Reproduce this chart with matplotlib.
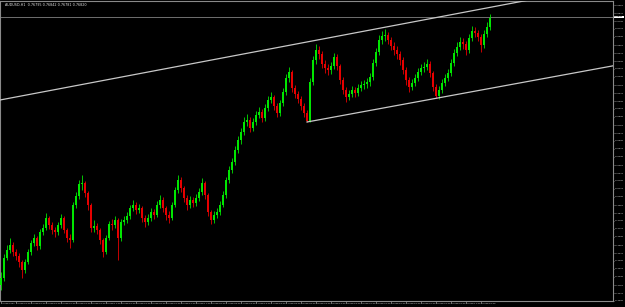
import matplotlib
matplotlib.use("Agg")
import matplotlib.pyplot as plt
import numpy as np

# ---------------- data (AUDUSD, H1) ----------------
opens = [0.7415, 0.7422, 0.7442, 0.7450, 0.7455, 0.7448, 0.7444, 0.7438, 0.7430, 0.7438,
         0.7448, 0.7457, 0.7462, 0.7454, 0.7468, 0.7472, 0.7482, 0.7475, 0.7470, 0.7468,
         0.7475, 0.7482, 0.7470, 0.7462, 0.7460, 0.7495, 0.7504, 0.7516, 0.7517, 0.7507,
         0.7495, 0.7472, 0.7474, 0.7470, 0.7460, 0.7448, 0.7462, 0.7476, 0.7475, 0.7480,
         0.7462, 0.7478, 0.7480, 0.7484, 0.7492, 0.7495, 0.7490, 0.7492, 0.7482, 0.7478,
         0.7482, 0.7488, 0.7485, 0.7495, 0.7500, 0.7492, 0.7485, 0.7482, 0.7495, 0.7510,
         0.7520, 0.7512, 0.7502, 0.7495, 0.7500, 0.7497, 0.7502, 0.7508, 0.7517, 0.7505,
         0.7488, 0.7480, 0.7485, 0.7488, 0.7495, 0.7505, 0.7520, 0.7530, 0.7538, 0.7550,
         0.7560, 0.7568, 0.7578, 0.7580, 0.7572, 0.7578, 0.7585, 0.7588, 0.7582, 0.7592,
         0.7600, 0.7603, 0.7594, 0.7587, 0.7597, 0.7608, 0.7622, 0.7628, 0.7612, 0.7606,
         0.7601, 0.7594, 0.7587, 0.7579, 0.7618, 0.7640, 0.7650, 0.7646, 0.7636, 0.7632,
         0.7630, 0.7634, 0.7643, 0.7634, 0.7620, 0.7610, 0.7603, 0.7606, 0.7610, 0.7607,
         0.7612, 0.7615, 0.7616, 0.7618, 0.7623, 0.7637, 0.7648, 0.7660, 0.7664, 0.7665,
         0.7660, 0.7654, 0.7650, 0.7646, 0.7640, 0.7630, 0.7620, 0.7613, 0.7617, 0.7622,
         0.7628, 0.7632, 0.7633, 0.7636, 0.7627, 0.7613, 0.7604, 0.7610, 0.7617, 0.7622,
         0.7627, 0.7637, 0.7647, 0.7653, 0.7658, 0.7656, 0.7650, 0.7662, 0.7669, 0.7667,
         0.7663, 0.7655, 0.7666, 0.7673]
closes = [0.7422, 0.7442, 0.7450, 0.7455, 0.7448, 0.7444, 0.7438, 0.7430, 0.7438, 0.7448,
          0.7457, 0.7462, 0.7454, 0.7468, 0.7472, 0.7482, 0.7475, 0.7470, 0.7468, 0.7475,
          0.7482, 0.7470, 0.7462, 0.7460, 0.7495, 0.7504, 0.7516, 0.7517, 0.7507, 0.7495,
          0.7472, 0.7474, 0.7470, 0.7460, 0.7448, 0.7462, 0.7476, 0.7475, 0.7480, 0.7462,
          0.7478, 0.7480, 0.7484, 0.7492, 0.7495, 0.7490, 0.7492, 0.7482, 0.7478, 0.7482,
          0.7488, 0.7485, 0.7495, 0.7500, 0.7492, 0.7485, 0.7482, 0.7495, 0.7510, 0.7520,
          0.7512, 0.7502, 0.7495, 0.7500, 0.7497, 0.7502, 0.7508, 0.7517, 0.7505, 0.7488,
          0.7480, 0.7485, 0.7488, 0.7495, 0.7505, 0.7520, 0.7530, 0.7538, 0.7550, 0.7560,
          0.7568, 0.7578, 0.7580, 0.7572, 0.7578, 0.7585, 0.7588, 0.7582, 0.7592, 0.7600,
          0.7603, 0.7594, 0.7587, 0.7597, 0.7608, 0.7622, 0.7628, 0.7612, 0.7606, 0.7601,
          0.7594, 0.7587, 0.7579, 0.7618, 0.7640, 0.7650, 0.7646, 0.7636, 0.7632, 0.7630,
          0.7634, 0.7643, 0.7634, 0.7620, 0.7610, 0.7603, 0.7606, 0.7610, 0.7607, 0.7612,
          0.7615, 0.7616, 0.7618, 0.7623, 0.7637, 0.7648, 0.7660, 0.7664, 0.7665, 0.7660,
          0.7654, 0.7650, 0.7646, 0.7640, 0.7630, 0.7620, 0.7613, 0.7617, 0.7622, 0.7628,
          0.7632, 0.7633, 0.7636, 0.7627, 0.7613, 0.7604, 0.7610, 0.7617, 0.7622, 0.7627,
          0.7637, 0.7647, 0.7653, 0.7658, 0.7656, 0.7650, 0.7662, 0.7669, 0.7667, 0.7663,
          0.7655, 0.7666, 0.7673, 0.7682]
highs = [0.7428, 0.7446, 0.7455, 0.7462, 0.7458, 0.7451, 0.7447, 0.7440, 0.7441, 0.7451,
         0.7460, 0.7466, 0.7464, 0.7471, 0.7476, 0.7487, 0.7484, 0.7478, 0.7473, 0.7478,
         0.7486, 0.7484, 0.7472, 0.7466, 0.7498, 0.7508, 0.7520, 0.7525, 0.7519, 0.7509,
         0.7497, 0.7480, 0.7477, 0.7472, 0.7462, 0.7465, 0.7479, 0.7481, 0.7484, 0.7482,
         0.7481, 0.7484, 0.7488, 0.7495, 0.7500, 0.7498, 0.7496, 0.7494, 0.7485, 0.7486,
         0.7492, 0.7491, 0.7499, 0.7505, 0.7503, 0.7494, 0.7489, 0.7498, 0.7513, 0.7525,
         0.7523, 0.7514, 0.7505, 0.7504, 0.7503, 0.7506, 0.7512, 0.7522, 0.7519, 0.7507,
         0.7490, 0.7489, 0.7492, 0.7499, 0.7509, 0.7523, 0.7534, 0.7542, 0.7554, 0.7564,
         0.7572, 0.7583, 0.7586, 0.7583, 0.7582, 0.7589, 0.7593, 0.7591, 0.7596, 0.7604,
         0.7608, 0.7605, 0.7597, 0.7600, 0.7612, 0.7626, 0.7633, 0.7630, 0.7615, 0.7609,
         0.7604, 0.7597, 0.7590, 0.7622, 0.7644, 0.7656, 0.7654, 0.7649, 0.7640, 0.7636,
         0.7638, 0.7647, 0.7646, 0.7636, 0.7623, 0.7613, 0.7610, 0.7614, 0.7613, 0.7616,
         0.7619, 0.7620, 0.7622, 0.7627, 0.7641, 0.7652, 0.7665, 0.7669, 0.7671, 0.7668,
         0.7663, 0.7658, 0.7654, 0.7649, 0.7643, 0.7633, 0.7623, 0.7621, 0.7626, 0.7632,
         0.7636, 0.7638, 0.7641, 0.7639, 0.7629, 0.7616, 0.7614, 0.7621, 0.7626, 0.7631,
         0.7641, 0.7651, 0.7658, 0.7663, 0.7662, 0.7659, 0.7666, 0.7674, 0.7673, 0.7670,
         0.7666, 0.7670, 0.7678, 0.7686]
lows = [0.7410, 0.7419, 0.7440, 0.7447, 0.7444, 0.7440, 0.7433, 0.7422, 0.7427, 0.7436,
        0.7445, 0.7454, 0.7450, 0.7451, 0.7465, 0.7470, 0.7471, 0.7466, 0.7463, 0.7465,
        0.7472, 0.7467, 0.7458, 0.7452, 0.7458, 0.7492, 0.7501, 0.7510, 0.7503, 0.7490,
        0.7468, 0.7468, 0.7466, 0.7456, 0.7443, 0.7446, 0.7460, 0.7470, 0.7472, 0.7440,
        0.7459, 0.7475, 0.7477, 0.7481, 0.7489, 0.7486, 0.7487, 0.7478, 0.7473, 0.7475,
        0.7479, 0.7481, 0.7483, 0.7492, 0.7488, 0.7480, 0.7477, 0.7480, 0.7493, 0.7507,
        0.7508, 0.7498, 0.7490, 0.7492, 0.7493, 0.7494, 0.7499, 0.7505, 0.7501, 0.7484,
        0.7476, 0.7477, 0.7482, 0.7485, 0.7493, 0.7502, 0.7517, 0.7527, 0.7535, 0.7547,
        0.7556, 0.7565, 0.7574, 0.7568, 0.7569, 0.7575, 0.7582, 0.7578, 0.7579, 0.7589,
        0.7597, 0.7590, 0.7583, 0.7584, 0.7594, 0.7605, 0.7618, 0.7608, 0.7602, 0.7597,
        0.7590, 0.7583, 0.7578, 0.7578, 0.7615, 0.7636, 0.7641, 0.7632, 0.7627, 0.7625,
        0.7626, 0.7631, 0.7630, 0.7616, 0.7606, 0.7598, 0.7600, 0.7603, 0.7603, 0.7604,
        0.7609, 0.7611, 0.7612, 0.7614, 0.7620, 0.7634, 0.7645, 0.7656, 0.7659, 0.7656,
        0.7650, 0.7645, 0.7641, 0.7635, 0.7626, 0.7615, 0.7608, 0.7610, 0.7614, 0.7619,
        0.7625, 0.7628, 0.7630, 0.7623, 0.7609, 0.7602, 0.7601, 0.7607, 0.7614, 0.7619,
        0.7624, 0.7634, 0.7644, 0.7650, 0.7651, 0.7645, 0.7647, 0.7659, 0.7663, 0.7659,
        0.7648, 0.7652, 0.7663, 0.7670]

bid_price = 0.7683
# channel anchors (bar index, price)
lower_channel = [(102, 0.7578), (203.7, 0.7634)]
upper_channel = [(-0.33, 0.7600), (176.0, 0.7700)]

price_ticks = [0.7695 - 0.0008 * k for k in range(38)]
time_labels = ["12 Feb 2021", "12 Feb 05:00", "12 Feb 10:00", "12 Feb 15:00", "12 Feb 20:00",
               "15 Feb 01:00", "15 Feb 06:00", "15 Feb 11:00", "15 Feb 16:00", "15 Feb 21:00",
               "16 Feb 02:00", "16 Feb 07:00", "16 Feb 12:00", "16 Feb 17:00", "16 Feb 22:00",
               "17 Feb 03:00", "17 Feb 08:00", "17 Feb 13:00", "17 Feb 18:00", "17 Feb 23:00",
               "18 Feb 04:00", "18 Feb 09:00", "18 Feb 14:00", "18 Feb 19:00", "19 Feb 00:00",
               "19 Feb 05:00", "19 Feb 10:00", "19 Feb 15:00", "19 Feb 20:00", "22 Feb 01:00",
               "22 Feb 06:00", "22 Feb 11:00", "22 Feb 16:00"]
time_positions = [5 * k for k in range(len(time_labels))]
title = "AUDUSD,H1  0.76795 0.76842 0.76781 0.76820"

# ---------------- drawing ----------------
W, H = 625, 307
fig = plt.figure(figsize=(W / 100, H / 100), dpi=100, facecolor="black")
ax = fig.add_axes([0 / W, (H - 301) / H, 613 / W, 300 / H], facecolor="black")

o = np.array(opens); c = np.array(closes); h = np.array(highs); l = np.array(lows)
idx = np.arange(len(o))
up = c >= o
bull, bear = "#00e600", "#e60000"
colors = np.where(up, bull, bear)

ax.vlines(idx, l, h, colors=colors, linewidth=0.6, zorder=2)
body_bottom = np.minimum(o, c)
body_h = np.maximum(np.abs(c - o), 0.00006)
ax.bar(idx, body_h, bottom=body_bottom, width=0.62, color=colors, linewidth=0, zorder=3)

# channel lines
for (x0, y0), (x1, y1) in [lower_channel, upper_channel]:
    slope = (y1 - y0) / (x1 - x0)
    xe = 260
    ax.plot([x0, xe], [y0, y0 + slope * (xe - x0)], color="#c8c8c8", lw=0.9, zorder=4)

# bid line
ax.axhline(bid_price, color="#707070", lw=0.7, zorder=1)

ax.set_xlim(-1 / 3, 612 / 3)
ax.set_ylim(0.7700 - 0.0301, 0.7700 - 0.0001)

for s in ax.spines.values():
    s.set_color("#8a8a8a")
    s.set_linewidth(0.8)

ax.yaxis.tick_right()
ax.set_yticks(price_ticks)
ax.set_yticklabels([f"{p:.5f}" for p in price_ticks])
ax.tick_params(axis="y", colors="#9a9a9a", labelcolor="#e0e0e0", labelsize=1.6,
               length=1.0, width=0.5, pad=0.5)
ax.set_xticks(time_positions)
ax.set_xticklabels(time_labels, ha="left")
ax.tick_params(axis="x", colors="#9a9a9a", labelcolor="#e0e0e0", labelsize=1.6,
               length=1.2, width=0.5, pad=0.3)

# bid price label on the scale
ax.text(1.002, bid_price, f"{bid_price:.5f}", transform=ax.get_yaxis_transform(),
        fontsize=1.6, color="black", va="center", ha="left",
        bbox=dict(boxstyle="square,pad=0.2", fc="white", ec="none"), zorder=10, clip_on=False)

ax.text(0.008, 0.995, title, transform=ax.transAxes, fontsize=2.4, color="#e0e0e0",
        va="top", ha="left")

fig.savefig("out.png", dpi=100, facecolor="black")
